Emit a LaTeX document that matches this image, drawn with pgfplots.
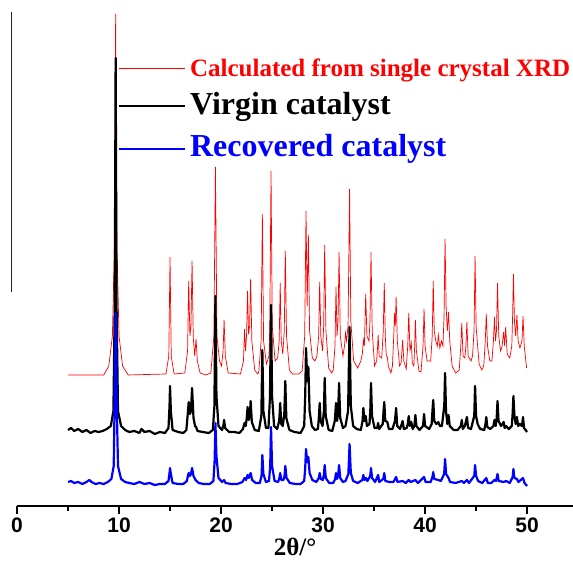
\documentclass[border=0pt]{standalone}
\usepackage{fontspec}
\setmainfont{Liberation Serif}
\setsansfont{Liberation Sans}
\usepackage{pgfplots}
\pgfplotsset{compat=1.18}

\begin{document}
\begin{tikzpicture}
\begin{axis}[
  scale only axis,
  width=556pt, height=506pt,
  xmin=0, xmax=54.5, ymin=0, ymax=506,
  clip=false,
  axis x line=bottom, axis y line=none,
  axis line style={-, line width=1.4pt},
  xtick={0,10,...,50},
  minor xtick={5,15,...,45},
  tick align=outside,
  major tick length=8pt, minor tick length=5pt,
  every tick/.style={black, line width=1.4pt},
  /pgf/number format/assume math mode=true,
  tick label style={font=\fontsize{21}{21}\selectfont\sffamily\bfseries},
  xlabel={2θ/°},
  xlabel style={font=\fontsize{25}{25}\selectfont\bfseries, yshift=1pt},
]
% calculated pattern (single crystal)
\addplot[red, line width=0.7pt] coordinates {
(5.0,131) (8.5,131) (9.0,140) (9.35,170) (9.55,260) (9.67,492) (9.8,260) (10.0,170) (10.35,140) (10.9,131)
(14.6,132) (14.88,150) (15.0,249) (15.12,150) (15.4,132) (16.45,133) (16.72,155) (16.83,225) (16.95,170)
(17.05,180) (17.16,245) (17.28,168) (17.42,150) (17.55,167) (17.68,145) (17.95,133) (18.5,131)
(19.0,133) (19.3,170) (19.45,339) (19.6,170) (19.85,145) (20.05,140) (20.2,155) (20.3,186) (20.42,150)
(20.7,133) (21.9,132) (22.2,145) (22.3,177) (22.4,155) (22.5,170) (22.6,215) (22.7,172) (22.8,180)
(22.9,227) (23.02,165) (23.3,136) (23.6,132) (23.7,134) (23.93,165) (24.05,292) (24.17,165) (24.45,142)
(24.7,150) (24.78,180) (24.9,335) (25.02,180) (25.3,145) (25.55,148) (25.7,165) (25.8,223) (25.9,165)
(26.05,152) (26.2,175) (26.3,255) (26.42,170) (26.7,136) (27.0,132) (27.6,132) (27.95,135) (28.2,170)
(28.33,295) (28.44,200) (28.56,271) (28.68,175) (28.95,148) (29.2,145) (29.4,150) (29.57,170) (29.67,224)
(29.78,170) (29.95,155) (30.06,180) (30.16,261) (30.28,175) (30.55,138) (30.85,133) (31.0,136) (31.17,160)
(31.27,219) (31.37,170) (31.47,185) (31.57,254) (31.69,170) (31.95,150) (32.1,160) (32.2,173) (32.3,165)
(32.45,180) (32.6,317) (32.72,185) (33.0,145) (33.4,138) (33.7,145) (33.85,152) (33.95,166) (34.05,160)
(34.18,212) (34.3,170) (34.5,165) (34.6,185) (34.7,254) (34.82,175) (35.05,140) (35.25,145) (35.35,160)
(35.4,171) (35.5,150) (35.75,148) (35.9,175) (36.0,223) (36.1,170) (36.2,150) (36.3,149) (36.4,140)
(36.65,133) (36.8,140) (36.95,175) (37.0,193) (37.08,180) (37.16,209) (37.28,165) (37.5,140) (37.65,143)
(37.8,166) (37.92,145) (38.15,137) (38.3,160) (38.4,193) (38.52,155) (38.65,163) (38.75,143) (38.9,140)
(38.98,160) (39.05,186) (39.15,155) (39.4,135) (39.6,134) (39.8,160) (39.9,197) (40.0,160) (40.2,145)
(40.55,145) (40.7,170) (40.8,225) (40.9,175) (41.05,165) (41.2,160) (41.3,171) (41.45,158) (41.6,165)
(41.75,160) (41.86,190) (41.96,267) (42.06,200) (42.18,175) (42.3,194) (42.42,165) (42.65,140) (43.0,133)
(43.35,136) (43.5,160) (43.6,183) (43.72,150) (43.9,148) (44.0,160) (44.1,184) (44.22,150) (44.5,145)
(44.65,150) (44.8,175) (44.9,250) (45.0,180) (45.15,160) (45.3,142) (45.55,136) (45.75,140) (45.9,165)
(46.0,192) (46.12,160) (46.35,145) (46.55,145) (46.7,165) (46.8,189) (46.9,165) (47.0,175) (47.1,223)
(47.22,170) (47.4,155) (47.55,160) (47.7,174) (47.8,160) (47.9,179) (48.05,152) (48.3,148) (48.5,160)
(48.58,190) (48.66,232) (48.76,185) (48.88,170) (49.0,191) (49.12,165) (49.3,158) (49.5,165) (49.6,190)
(49.72,160) (49.95,138)
};
% virgin catalyst
\addplot[black, line width=2.2pt, line join=round] coordinates {
(5.0,76) (5.3,78) (5.6,75) (6.0,77) (6.4,74) (6.8,76) (7.2,73) (7.6,75) (8.0,74) (8.4,75) (8.8,77) (9.2,80)
(9.45,95) (9.58,200) (9.67,448) (9.76,200) (9.9,95) (10.2,80) (10.6,76) (11.0,74) (11.5,75) (12.0,73)
(12.2,77) (12.5,74) (13.0,75) (13.5,72) (14.0,74) (14.5,73) (14.85,78) (14.95,100) (15.0,120) (15.08,95)
(15.25,76) (15.8,74) (16.3,73) (16.6,76) (16.72,90) (16.83,104) (16.95,92) (17.05,95) (17.16,118) (17.3,88)
(17.45,80) (17.55,79) (17.7,75) (18.2,74) (18.8,73) (19.2,76) (19.35,100) (19.45,210) (19.55,110) (19.75,80)
(20.1,76) (20.22,80) (20.3,86) (20.4,78) (20.8,74) (21.3,74) (21.8,73) (22.15,77) (22.3,83) (22.42,80)
(22.52,88) (22.6,99) (22.72,86) (22.82,90) (22.9,105) (23.02,84) (23.3,76) (23.7,75) (23.95,90) (24.05,156)
(24.15,95) (24.4,78) (24.65,78) (24.8,110) (24.9,201) (25.0,110) (25.2,80) (25.5,77) (25.7,85) (25.8,103)
(25.9,82) (26.05,80) (26.2,92) (26.3,125) (26.4,88) (26.7,76) (27.2,74) (27.8,73) (28.15,80) (28.25,110)
(28.33,158) (28.45,125) (28.56,139) (28.68,95) (28.9,80) (29.2,76) (29.5,77) (29.6,90) (29.67,103) (29.76,85)
(29.95,80) (30.08,95) (30.16,128) (30.26,90) (30.55,76) (30.9,75) (31.15,85) (31.27,103) (31.37,85) (31.47,92)
(31.57,123) (31.68,88) (31.95,78) (32.2,80) (32.45,95) (32.6,179) (32.72,100) (32.95,80) (33.3,77) (33.7,76)
(33.87,85) (33.95,98) (34.05,85) (34.18,90) (34.3,80) (34.55,82) (34.63,95) (34.7,123) (34.8,90) (35.05,78)
(35.3,78) (35.4,83) (35.5,77) (35.85,82) (35.93,95) (36.0,104) (36.1,85) (36.3,84) (36.45,77) (36.8,77)
(37.05,85) (37.16,98) (37.27,80) (37.55,77) (37.8,85) (37.92,77) (38.2,78) (38.3,82) (38.4,90) (38.5,80)
(38.65,84) (38.78,77) (38.95,80) (39.05,91) (39.15,80) (39.45,76) (39.8,80) (39.9,92) (40.0,80) (40.4,77)
(40.65,82) (40.72,95) (40.8,106) (40.9,85) (41.1,82) (41.3,84) (41.45,80) (41.65,80) (41.88,100) (41.96,133)
(42.05,95) (42.18,82) (42.3,91) (42.42,80) (42.8,76) (43.2,76) (43.5,80) (43.6,86) (43.7,77) (43.9,80)
(44.1,89) (44.22,78) (44.5,77) (44.82,90) (44.9,120) (45.0,90) (45.15,82) (45.4,77) (45.8,76) (45.92,82)
(46.0,89) (46.1,79) (46.4,77) (46.7,80) (46.8,86) (46.92,80) (47.02,88) (47.1,105) (47.2,85) (47.45,80)
(47.7,84) (47.8,78) (47.95,80) (48.2,77) (48.5,80) (48.58,92) (48.66,110) (48.76,90) (48.88,82) (49.0,89)
(49.12,80) (49.3,82) (49.5,80) (49.6,89) (49.7,78) (50.0,74)
};
% recovered catalyst
\addplot[blue, line width=2.2pt, line join=round] coordinates {
(5.0,24) (5.3,25) (5.6,23) (6.0,24) (6.4,22) (6.8,24) (7.1,26) (7.3,24) (7.7,22) (8.1,23) (8.5,22) (8.9,24)
(9.25,27) (9.48,40) (9.58,110) (9.67,193) (9.76,110) (9.9,40) (10.2,27) (10.6,24) (11.0,23) (11.5,22)
(12.0,24) (12.5,22) (13.0,23) (13.5,21) (14.0,22) (14.5,22) (14.85,25) (14.95,33) (15.0,38) (15.08,32)
(15.25,23) (15.8,22) (16.3,22) (16.65,25) (16.75,30) (16.83,33) (16.95,30) (17.05,32) (17.16,38) (17.3,30)
(17.5,26) (17.8,23) (18.3,22) (18.9,22) (19.25,25) (19.37,45) (19.45,83) (19.55,50) (19.75,28) (20.1,24)
(20.3,26) (20.45,23) (21.0,22) (21.6,22) (22.1,24) (22.3,28) (22.45,26) (22.6,31) (22.72,28) (22.9,33)
(23.05,26) (23.4,23) (23.8,23) (23.97,30) (24.05,51) (24.15,32) (24.4,24) (24.7,25) (24.82,40) (24.9,79)
(25.0,40) (25.25,25) (25.6,24) (25.72,28) (25.8,33) (25.9,26) (26.12,26) (26.22,30) (26.3,40) (26.42,28)
(26.75,23) (27.3,22) (27.8,22) (28.15,25) (28.25,38) (28.33,57) (28.45,44) (28.56,49) (28.68,33) (28.95,26)
(29.35,24) (29.58,28) (29.67,33) (29.78,27) (29.98,26) (30.08,31) (30.16,41) (30.27,28) (30.6,23) (31.0,23)
(31.18,27) (31.27,33) (31.37,27) (31.47,30) (31.57,41) (31.68,28) (31.95,24) (32.2,25) (32.48,32) (32.6,62)
(32.72,33) (32.95,25) (33.4,23) (33.85,26) (33.95,31) (34.05,26) (34.2,28) (34.35,25) (34.62,30) (34.7,38)
(34.8,28) (35.1,24) (35.4,31) (35.5,24) (35.9,27) (36.0,33) (36.1,25) (36.5,24) (36.9,24) (37.16,29)
(37.3,24) (37.8,25) (38.1,23) (38.4,26) (38.6,24) (39.05,26) (39.3,23) (39.9,29) (40.05,24) (40.55,24)
(40.72,29) (40.8,34) (40.9,27) (41.3,26) (41.55,25) (41.87,32) (41.96,47) (42.06,32) (42.3,28) (42.45,24)
(43.0,23) (43.6,25) (43.8,23) (44.1,26) (44.3,23) (44.82,30) (44.9,41) (45.0,30) (45.2,25) (45.6,23)
(46.0,28) (46.15,23) (46.5,23) (46.8,26) (46.95,25) (47.1,32) (47.22,25) (47.7,24) (47.95,25) (48.3,23)
(48.58,29) (48.66,37) (48.76,28) (49.0,27) (49.15,24) (49.6,28) (49.75,23) (50.0,20)
};
% stray left axis line of the original figure
\draw[black!85, line width=0.8pt] (axis cs:-0.59,214) -- (axis cs:-0.59,494);
% legend
\draw[red, line width=0.7pt] (axis cs:10.0,438) -- (axis cs:16.47,438);
\draw[black, line width=2.2pt] (axis cs:10.0,400) -- (axis cs:16.47,400);
\draw[blue, line width=2.2pt] (axis cs:10.0,357) -- (axis cs:16.47,357);
\node[anchor=base west, inner sep=0pt, text=red, font=\fontsize{25}{25}\selectfont\bfseries]
  at (axis cs:16.95,429) {Calculated from single crystal XRD};
\node[anchor=base west, inner sep=0pt, text=black, font=\fontsize{32}{32}\selectfont\bfseries]
  at (axis cs:16.95,391) {Virgin catalyst};
\node[anchor=base west, inner sep=0pt, text=blue, font=\fontsize{32}{32}\selectfont\bfseries]
  at (axis cs:16.95,349) {Recovered catalyst};
\end{axis}
\pgfresetboundingbox
\useasboundingbox (-17pt,-66pt) rectangle (556pt,506pt);
\end{tikzpicture}
\end{document}
